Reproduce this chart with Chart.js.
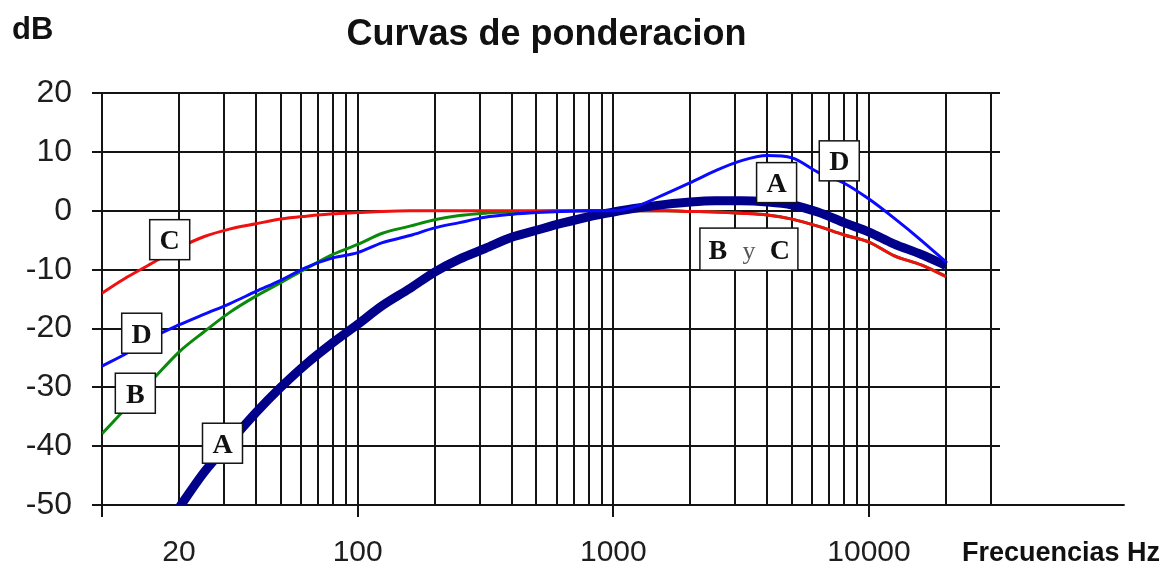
<!DOCTYPE html>
<html>
<head>
<meta charset="utf-8">
<title>Curvas de ponderacion</title>
<script src="https://cdn.jsdelivr.net/npm/chart.js@4.4.1/dist/chart.umd.min.js"></script>
<style>
  html, body { margin: 0; padding: 0; background: #fff; }
  #wrap { width: 1175px; height: 569px; }
</style>
</head>
<body>
<div id="wrap"><canvas id="chart" width="1175" height="569"></canvas></div>
<script>
// ═══════════════════════════════════════════════════════════
// Curvas de ponderacion: weighting curves A, B, C and D
// log frequency axis, dB on y
// ═══════════════════════════════════════════════════════════

// third-octave frequencies (Hz)
const freqs = [10, 12.5, 16, 20, 25, 31.5, 40, 50, 63, 80,
  100, 125, 160, 200, 250, 315, 400, 500, 630, 800,
  1000, 1250, 1600, 2000, 2500, 3150, 4000, 5000, 6300, 8000,
  10000, 12500, 16000, 20000];

// dB values
const curveA = [null, null, -56.7, -50.5, -44.5, -39.4, -34.3, -30.0, -26.0, -22.4,
  -19.3, -16.1, -13.2, -10.4, -8.2, -6.4, -4.5, -3.3, -2.1, -1.0,
  -0.2, 0.5, 1.1, 1.5, 1.7, 1.7, 1.5, 1.0, -0.2, -2.0,
  -3.6, -5.6, -7.4, -9.3];
const curveB = [-37.9, -33.4, -28.4, -24.0, -20.6, -17.3, -14.5, -12.2, -9.8, -7.4,
  -5.7, -3.8, -2.6, -1.5, -0.8, -0.4, -0.2, -0.1, 0, 0,
  0, 0, 0, -0.1, -0.2, -0.4, -0.7, -1.4, -2.6, -4.1,
  -5.3, -7.6, -9.2, -11.1];
const curveC = [-14.0, -11.3, -8.7, -6.3, -4.4, -3.1, -2.2, -1.4, -0.9, -0.5,
  -0.3, -0.1, 0, 0, 0, 0, 0, 0, 0, 0,
  0, 0, 0, -0.1, -0.2, -0.4, -0.7, -1.4, -2.6, -4.1,
  -5.3, -7.6, -9.2, -11.2];
const curveD = [-26.4, -24.2, -21.4, -19.4, -17.6, -15.8, -13.7, -11.8, -9.6, -8.0,
  -7.1, -5.4, -4.2, -2.9, -2.0, -1.1, -0.6, -0.3, -0.1, 0,
  0, 0.9, 2.9, 4.8, 6.8, 8.5, 9.4, 9.0, 6.6, 4.7,
  2.0, -1.2, -5.0, -8.7];

// axis: vertical grid lines, labelled frequencies, decade tick marks
const gridFreqs = [10, 20, 30, 40, 50, 60, 70, 80, 90,
  100, 200, 300, 400, 500, 600, 700, 800, 900,
  1000, 2000, 3000, 4000, 5000, 6000, 7000, 8000, 9000,
  10000, 20000, 30000];
const labelFreqs = [20, 100, 1000, 10000];
const decadeFreqs = [10, 100, 1000, 10000];
const axisEndFreq = 100000;

// boxed curve names (frequency, dB)
const boxLabels = [
  { text: 'C', f: 18.4, db: -4.9 },
  { text: 'D', f: 14.3, db: -20.8 },
  { text: 'B', f: 13.5, db: -31.0 },
  { text: 'A', f: 29.6, db: -39.5 },
  { text: 'A', f: 4350, db: 4.8 },
  { text: 'D', f: 7650, db: 8.5 },
  { text: 'B y C', f: 3390, db: -6.5 },
];

const toPoints = (vals) => freqs.map((f, i) => ({ x: f, y: vals[i] }));

Chart.defaults.font.family = '"Liberation Sans", Arial, sans-serif';
Chart.defaults.color = '#1e1e1e';

const LINE = '#141414';

const extras = {
    id: 'extras',
    afterDatasetsDraw(chart) {
        const { ctx } = chart;
        const xs = chart.scales.x;
        const ys = chart.scales.y;
        ctx.save();
        boxLabels.forEach((lb) => {
            const cx = xs.getPixelForValue(lb.f);
            const cy = ys.getPixelForValue(lb.db);
            const parts = lb.text.split(' ');
            const w = parts.length > 1 ? 98 : 40;
            const h = parts.length > 1 ? 42 : 40;
            ctx.fillStyle = '#fff';
            ctx.fillRect(cx - w / 2, cy - h / 2, w, h);
            ctx.strokeStyle = LINE;
            ctx.lineWidth = 1.5;
            ctx.strokeRect(cx - w / 2, cy - h / 2, w, h);
            ctx.textAlign = 'center';
            ctx.textBaseline = 'alphabetic';
            parts.forEach((p, i) => {
                const px = cx + (i - (parts.length - 1) / 2) * 31;
                if (p === 'y') {
                    ctx.font = '26px "Liberation Serif", serif';
                    ctx.fillStyle = '#555';
                } else {
                    ctx.font = 'bold 28px "Liberation Serif", serif';
                    ctx.fillStyle = '#111';
                }
                ctx.fillText(p, px, cy + 9.5);
            });
        });
        ctx.restore();
    },
    afterDraw(chart) {
        const { ctx, chartArea } = chart;
        const xs = chart.scales.x;
        const ys = chart.scales.y;
        ctx.save();
        ctx.strokeStyle = LINE;
        ctx.lineWidth = 2;
        // axis line runs on past the grid
        ctx.beginPath();
        ctx.moveTo(chartArea.right, chartArea.bottom);
        ctx.lineTo(xs.getPixelForValue(axisEndFreq), chartArea.bottom);
        // short stubs on the right of each horizontal line
        ys.ticks.forEach((t) => {
            const y = Math.round(ys.getPixelForValue(t.value));
            ctx.moveTo(chartArea.right, y);
            ctx.lineTo(chartArea.right + 9, y);
        });
        ctx.stroke();

        ctx.fillStyle = '#111';
        ctx.textAlign = 'left';
        ctx.textBaseline = 'alphabetic';
        ctx.font = 'bold 31px "Liberation Sans", Arial, sans-serif';
        ctx.fillText('dB', 12, 39);
        ctx.font = 'bold 27px "Liberation Sans", Arial, sans-serif';
        ctx.fillText('Frecuencias Hz', 962, 561);
        ctx.restore();
    },
};

const line = (label, vals, color, width, order) => ({
    label,
    data: toPoints(vals),
    borderColor: color,
    backgroundColor: color,
    borderWidth: width,
    pointRadius: 0,
    cubicInterpolationMode: 'monotone',
    spanGaps: false,
    fill: false,
    order,
});

new Chart(document.getElementById('chart'), {
    type: 'line',
    data: {
        datasets: [
            line('D', curveD, '#0a0aff', 3, 0),
            line('A', curveA, '#00008b', 9, 1),
            line('C', curveC, '#f01010', 3, 2),
            line('B', curveB, '#0a8a0a', 3, 3),
        ],
    },
    options: {
        responsive: false,
        animation: false,
        devicePixelRatio: 1,
        events: [],
        layout: { padding: { left: 0, right: 184, top: 0, bottom: 0 } },
        plugins: {
            legend: { display: false },
            tooltip: { enabled: false },
            title: {
                display: true,
                text: 'Curvas de ponderacion',
                fullSize: false,
                color: '#111',
                font: { size: 36, weight: 'bold' },
                padding: { top: 13, bottom: 37 },
            },
        },
        scales: {
            x: {
                type: 'logarithmic',
                min: 10,
                max: 30000,
                afterBuildTicks: (scale) => {
                    scale.ticks = gridFreqs.map((v) => ({ value: v }));
                },
                afterFit: (scale) => { scale.height = 64; },
                grid: {
                    color: LINE,
                    lineWidth: 2,
                    tickLength: 12,
                    tickColor: (c) => (c.tick && decadeFreqs.includes(c.tick.value) ? LINE : 'rgba(0,0,0,0)'),
                },
                border: { color: LINE, width: 2 },
                ticks: {
                    autoSkip: false,
                    maxRotation: 0,
                    padding: 18,
                    font: { size: 30 },
                    callback: (v) => (labelFreqs.includes(v) ? String(v) : ''),
                },
            },
            y: {
                min: -50,
                max: 20,
                afterFit: (scale) => { scale.width = 102; },
                grid: { color: LINE, lineWidth: 2, tickLength: 10 },
                border: { color: LINE, width: 2 },
                ticks: {
                    stepSize: 10,
                    padding: 20,
                    font: { size: 32 },
                },
            },
        },
    },
    plugins: [extras],
});
</script>
</body>
</html>
